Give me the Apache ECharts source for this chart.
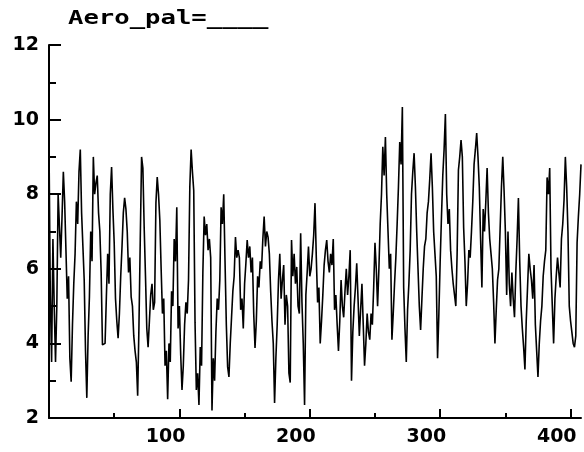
<!DOCTYPE html>
<html>
<head>
<meta charset="utf-8">
<script src="https://cdn.jsdelivr.net/npm/echarts@6/dist/echarts.min.js"></script>
<style>
html,body{margin:0;padding:0;background:#fff;}
#myChart{width:584px;height:452px;}
</style>
</head>
<body>
<div id="myChart"></div>
<script type="text/javascript">
// values, one per sample index (0..408)
var aeroPal = [
	9.3,5.3,3.5,6.8,5.0,3.5,5.0,8.0,8.0,6.3,
	7.4,8.6,7.8,6.5,5.2,5.8,3.6,2.97,4.5,5.6,
	6.4,7.8,7.2,8.6,9.2,7.5,6.6,5.7,3.8,2.54,
	4.2,5.25,7.0,6.2,9.0,8.0,8.3,8.5,7.5,7.0,
	5.9,3.96,4.0,4.0,5.25,6.4,5.6,8.0,8.73,7.6,
	6.7,5.2,4.6,4.14,4.8,5.8,6.6,7.5,7.9,7.6,
	7.0,5.9,6.3,5.25,5.0,4.2,3.8,3.5,2.6,4.5,
	6.8,9.0,8.7,7.1,5.8,4.4,3.9,4.6,5.3,5.6,
	4.9,5.1,7.76,8.46,8.0,7.3,6.0,4.8,5.2,3.4,
	3.8,2.5,4.0,3.5,5.4,5.0,6.8,6.2,7.65,4.4,
	5.0,3.7,2.75,3.4,4.5,5.1,4.8,5.7,8.2,9.2,
	8.6,8.1,4.55,2.75,3.2,2.35,3.9,3.4,5.9,7.4,
	6.9,7.2,6.5,6.8,6.3,2.2,3.6,3.0,4.3,5.2,
	4.9,5.7,7.65,7.2,8.0,6.2,4.5,3.37,3.1,4.0,
	4.7,5.4,5.8,6.85,6.3,6.5,6.3,4.9,5.2,4.4,
	5.6,6.15,6.77,6.3,6.6,5.9,6.3,4.8,3.88,4.6,
	5.8,5.5,6.2,6.0,6.8,7.4,6.6,7.0,6.85,6.4,
	5.4,4.6,4.0,2.4,3.6,4.5,5.7,6.4,5.2,5.7,
	6.1,4.5,5.3,5.0,3.2,2.95,6.77,5.8,6.4,5.6,
	6.05,5.0,4.8,6.95,5.1,4.0,2.35,5.3,5.9,6.6,
	5.8,6.0,6.4,6.9,7.76,6.3,5.1,5.5,4.0,4.6,
	5.3,6.1,6.5,6.77,6.2,5.9,6.4,6.1,6.8,4.9,
	5.3,4.5,3.8,4.6,5.7,5.0,4.7,5.4,6.0,5.3,
	5.8,6.5,3.0,4.3,5.0,5.5,6.15,5.2,4.2,4.9,
	5.6,4.5,3.4,4.0,4.8,4.3,4.1,4.8,4.5,5.5,
	6.7,6.0,5.0,6.0,7.2,8.0,9.27,8.5,9.53,8.0,
	7.0,6.0,6.4,4.1,4.8,5.6,6.3,7.2,8.2,9.4,
	8.8,10.34,5.5,4.4,3.5,4.9,5.6,6.5,8.0,8.6,
	9.1,8.2,7.0,6.0,5.0,4.36,5.2,6.0,6.6,6.8,
	7.5,7.8,8.4,9.1,8.2,7.0,6.4,5.8,3.6,4.8,
	6.2,7.4,8.5,9.2,10.15,8.0,7.2,7.6,6.5,6.0,
	5.6,5.3,5.0,6.4,8.65,9.0,9.45,9.0,7.1,6.2,
	5.0,5.6,6.5,6.3,7.0,7.8,8.8,9.2,9.64,9.0,
	8.2,6.8,5.5,7.6,7.0,7.8,8.7,7.5,6.8,6.4,
	6.0,5.1,4.0,4.9,5.7,6.0,7.1,8.2,9.0,8.1,
	7.0,5.3,7.0,5.6,5.0,5.9,5.2,4.7,5.9,6.8,
	7.9,6.2,5.0,4.4,3.9,3.3,4.6,5.5,6.4,6.0,
	5.7,5.2,6.1,4.5,3.8,3.1,4.0,4.6,5.0,5.8,
	6.2,6.5,8.45,8.0,8.7,6.0,5.0,4.0,5.2,5.8,
	6.3,5.9,5.5,6.8,7.2,7.85,9.0,8.2,7.0,5.0,
	4.6,4.3,4.0,3.9,4.2,6.7,7.4,8.0,8.8
];
var xMajorTicks = [100, 200, 300, 400];
var xMinorTicks = [50, 150, 250, 350];
var titleText = 'Aero_pal=____';

var labelFont = {
	fontFamily: 'DejaVu Sans',
	fontWeight: 'bold',
	fontSize: 19,
	color: '#000'
};

var option = {
	animation: false,
	backgroundColor: '#fff',
	grid: {left: 49, right: 3, top: 45, bottom: 34, containLabel: false},
	graphic: [
		{
			type: 'text',
			left: 68,
			top: 9,
			scaleX: 1.28,
			style: {
				text: titleText,
				fontFamily: 'DejaVu Sans Mono',
				fontWeight: 'bold',
				fontSize: 20,
				fill: '#000'
			}
		}
	],
	xAxis: [
		{
			type: 'value',
			min: 0,
			max: 408,
			splitLine: {show: false},
			axisLine: {show: true, onZero: false, lineStyle: {color: '#000', width: 2}},
			axisTick: {show: true, inside: true, length: 9, customValues: xMajorTicks, lineStyle: {color: '#000', width: 2}},
			axisLabel: Object.assign({customValues: xMajorTicks, margin: 10, align: 'right', padding: [0, -6, 0, 0]}, labelFont)
		},
		{
			type: 'value',
			min: 0,
			max: 408,
			position: 'bottom',
			splitLine: {show: false},
			axisLine: {show: false},
			axisTick: {show: true, inside: true, length: 5, customValues: xMinorTicks, lineStyle: {color: '#000', width: 2}},
			axisLabel: {show: false}
		}
	],
	yAxis: {
		type: 'value',
		min: 2,
		max: 12,
		interval: 2,
		splitLine: {show: false},
		axisLine: {show: true, onZero: false, lineStyle: {color: '#000', width: 2}},
		axisTick: {show: true, inside: true, length: 12, lineStyle: {color: '#000', width: 2}},
		minorTick: {show: true, splitNumber: 2, length: 7, lineStyle: {color: '#000', width: 2}},
		minorSplitLine: {show: false},
		axisLabel: Object.assign({margin: 10}, labelFont)
	},
	series: [
		{
			name: 'Aero_pal',
			type: 'line',
			showSymbol: false,
			data: aeroPal.map(function(v, i) { return [i, v]; }),
			lineStyle: {color: '#000', width: 1.6},
			itemStyle: {color: '#000'}
		}
	]
};
echarts.init(document.getElementById('myChart')).setOption(option);
</script>
</body>
</html>
